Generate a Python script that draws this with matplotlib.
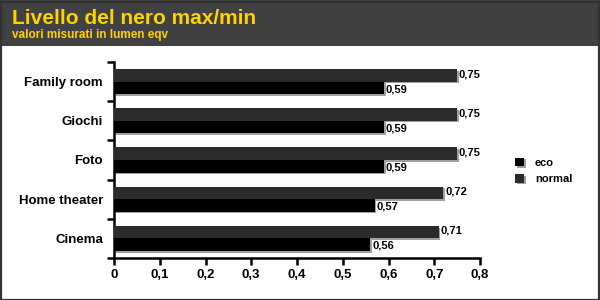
import matplotlib.pyplot as plt
import matplotlib.patheffects as pe
from matplotlib.patches import Rectangle
import numpy as np

categories = ["Family room", "Giochi", "Foto", "Home theater", "Cinema"]
eco = [0.59, 0.59, 0.59, 0.57, 0.56]
normal = [0.75, 0.75, 0.75, 0.72, 0.71]
xticks = [0, 0.1, 0.2, 0.3, 0.4, 0.5, 0.6, 0.7, 0.8]

plt.rcParams['font.family'] = ['Liberation Sans', 'DejaVu Sans']

fig = plt.figure(figsize=(6, 3), dpi=100)
fig.patch.set_facecolor('white')

# header band and outer frame
fig.patches.append(Rectangle((0, 1 - 46/300), 1, 46/300, transform=fig.transFigure,
                             facecolor='#414141', edgecolor='none', zorder=0))
fig.patches.append(Rectangle((0.5/600, 0.5/300), 1 - 2/600, 1 - 2/300, transform=fig.transFigure,
                             facecolor='none', edgecolor='#333333', linewidth=1.6, zorder=5))
fig.text(12/600, 1 - 18/300, "Livello del nero max/min", color='#FFD200', fontsize=15,
         fontweight='bold', va='center', ha='left')
fig.text(12/600, 1 - 35/300, "valori misurati in lumen eqv", color='#FFD200', fontsize=8.5,
         fontweight='bold', va='center', ha='left')

ax = fig.add_axes([114/600, 1 - 258/300, (480 - 114)/600, (258 - 62)/300])
y = np.arange(len(categories))
h = 0.32
shadow = [pe.SimplePatchShadow(offset=(1.2, -1.2), shadow_rgbFace='#a0a0a0', alpha=1), pe.Normal()]

bn = ax.barh(y - h/2, normal, height=h, color='#2b2b2b', label='normal', zorder=3)
be = ax.barh(y + h/2, eco, height=h, color='black', label='eco', zorder=3)
for b in list(bn) + list(be):
    b.set_path_effects(shadow)

for yi, v in zip(y, normal):
    ax.text(v + 0.004, yi - h/2 - 0.03, f"{v:.2f}".replace('.', ','), va='center', ha='left',
            fontsize=8, fontweight='bold')
for yi, v in zip(y, eco):
    ax.text(v + 0.004, yi + h/2 + 0.03, f"{v:.2f}".replace('.', ','), va='center', ha='left',
            fontsize=8, fontweight='bold')

ax.set_xlim(0, 0.8)
ax.set_ylim(len(categories) - 0.5, -0.5)
ax.set_xticks(xticks)
ax.set_xticklabels([("%g" % t).replace('.', ',') for t in xticks], fontsize=9.5, fontweight='bold')
ax.set_yticks(np.arange(-0.5, len(categories), 1.0))
ax.set_yticklabels([])
ax.set_yticks(y, minor=True)
ax.set_yticklabels(categories, minor=True, fontsize=9.5, fontweight='bold')
ax.tick_params(axis='y', which='minor', length=0, pad=8)
ax.tick_params(axis='y', which='major', length=5, width=1.8, direction='out')
ax.tick_params(axis='x', length=5, width=1.8, direction='out', pad=3)
for s in ['top', 'right']:
    ax.spines[s].set_visible(False)
for s in ['left', 'bottom']:
    ax.spines[s].set_linewidth(1.8)

handles = [be, bn]
leg = fig.legend(handles, ['eco', 'normal'], loc='center left',
                 bbox_to_anchor=(505/600, 1 - 171/300), frameon=False,
                 handlelength=0.8, handleheight=0.8, handletextpad=1.0,
                 prop={'size': 8, 'weight': 'bold'}, labelspacing=0.55)

fig.savefig("out.png", dpi=100)
